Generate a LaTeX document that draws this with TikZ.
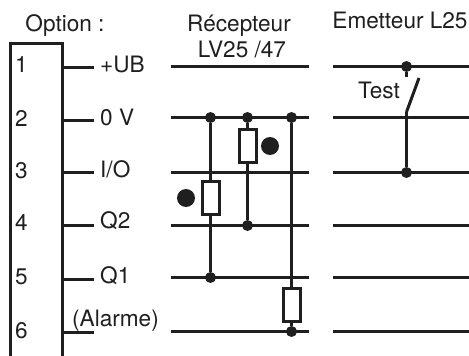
\documentclass[tikz,border=0pt]{standalone}
\usepackage{fontspec}
\setmainfont{TeX Gyre Heros}
\tikzset{
	wire/.style = { line width = 3pt , color = black!88 },
	label/.style = { inner sep = 0pt , font = \fontsize{22.6}{22.6}\selectfont , color = black!88 },
	junction/.style = { circle , fill = black!88 , inner sep = 0pt , minimum size = 11pt },
	polarity/.style = { circle , fill = black!88 , inner sep = 0pt , minimum size = 18pt },
	resistor/.style = { draw = black!88 , line width = 3pt , fill = white , inner sep = 0pt , minimum width = 17pt , minimum height = 33pt }
}
\begin{document}
\begin{tikzpicture} [ x = 1pt , y = -1pt ]
	\useasboundingbox (0,0) rectangle (469,356);

	\node [label, anchor = base] (title1) at (65,31) { Option : };
	\node [label, anchor = base] (title2) at (239,31) { Récepteur };
	\node [label, anchor = base] (title3) at (242,57) { LV25 /47 };
	\node [label, anchor = base] (title4) at (400,28.5) { Emetteur L25 };

	\coordinate (boxa) at (10.5,356);
	\coordinate (boxb) at (10.5,43.5);
	\coordinate (boxc) at (62.5,43.5);
	\coordinate (boxd) at (62.5,356);
	\draw [wire] (boxa) -- (boxb) -- (boxc) -- (boxd);

	\node [label, anchor = base west] (n1) at (15,72.5) { 1 };
	\node [label, anchor = base west] (n2) at (15,126) { 2 };
	\node [label, anchor = base west] (n3) at (15,178) { 3 };
	\node [label, anchor = base west] (n4) at (15,230.5) { 4 };
	\node [label, anchor = base west] (n5) at (15,284.5) { 5 };
	\node [label, anchor = base west] (n6) at (15,338) { 6 };

	\node [label, anchor = base west] (p1) at (100,72) { +UB };
	\node [label, anchor = base west] (p2) at (100,125) { 0 V };
	\node [label, anchor = base west] (p3) at (100,177) { I/O };
	\node [label, anchor = base west] (p4) at (100,228.5) { Q2 };
	\node [label, anchor = base west] (p5) at (100,283) { Q1 };
	\node [label, anchor = base west] (p6) at (72,326) { (Alarme) };

	\coordinate (s1) at (62,67.5);
	\coordinate (s2) at (62,120.5);
	\coordinate (s3) at (62,172.5);
	\coordinate (s4) at (62,225.5);
	\coordinate (s5) at (62,279.5);
	\coordinate (s6) at (62,332.5);
	\coordinate (e1) at (94,67.5);
	\coordinate (e2) at (94,120.5);
	\coordinate (e3) at (94,172.5);
	\coordinate (e4) at (94,225.5);
	\coordinate (e5) at (94,279.5);
	\coordinate (e6) at (94,332.5);
	\draw [wire] (s1) to (e1);
	\draw [wire] (s2) to (e2);
	\draw [wire] (s3) to (e3);
	\draw [wire] (s4) to (e4);
	\draw [wire] (s5) to (e5);
	\draw [wire] (s6) to (e6);

	\coordinate (a1) at (171,66.5);
	\coordinate (a2) at (171,117.5);
	\coordinate (a3) at (171,172.5);
	\coordinate (a4) at (171,225.5);
	\coordinate (a5) at (171,277.5);
	\coordinate (a6) at (171,331.5);
	\coordinate (b1) at (309,66.5);
	\coordinate (b2) at (309,117.5);
	\coordinate (b3) at (309,172.5);
	\coordinate (b4) at (309,225.5);
	\coordinate (b5) at (309,277.5);
	\coordinate (b6) at (309,331.5);
	\draw [wire] (a1) to (b1);
	\draw [wire] (a2) to (b2);
	\draw [wire] (a3) to (b3);
	\draw [wire] (a4) to (b4);
	\draw [wire] (a5) to (b5);
	\draw [wire] (a6) to (b6);

	\coordinate (c1) at (333,66.5);
	\coordinate (c2) at (333,117.5);
	\coordinate (c3) at (333,172.5);
	\coordinate (c4) at (333,225.5);
	\coordinate (c5) at (333,277.5);
	\coordinate (c6) at (333,331.5);
	\coordinate (d1) at (469,66.5);
	\coordinate (d2) at (469,117.5);
	\coordinate (d3) at (469,172.5);
	\coordinate (d4) at (469,225.5);
	\coordinate (d5) at (469,277.5);
	\coordinate (d6) at (469,331.5);
	\draw [wire] (c1) to (d1);
	\draw [wire] (c2) to (d2);
	\draw [wire] (c3) to (d3);
	\draw [wire] (c4) to (d4);
	\draw [wire] (c5) to (d5);
	\draw [wire] (c6) to (d6);

	\node [junction] (j1) at (210.5,117.5) {};
	\node [junction] (j2) at (247.5,117.5) {};
	\node [junction] (j3) at (291.5,117.5) {};
	\node [junction] (j4) at (210.5,277.5) {};
	\node [junction] (j5) at (247.5,225.5) {};
	\node [junction] (j6) at (291.5,331.5) {};
	\node [resistor] (r1) at (210.5,197.5) {};
	\node [resistor] (r2) at (247.5,145.5) {};
	\node [resistor] (r3) at (291.5,304.5) {};
	\node [polarity] (m1) at (186,198) {};
	\node [polarity] (m2) at (270,146) {};
	\draw [wire] (j1) to (r1);
	\draw [wire] (r1) to (j4);
	\draw [wire] (j2) to (r2);
	\draw [wire] (r2) to (j5);
	\draw [wire] (j3) to (r3);
	\draw [wire] (r3) to (j6);

	\node [junction] (j7) at (406.5,66.5) {};
	\node [junction] (j8) at (406.5,172.5) {};
	\coordinate (t1) at (406.5,77);
	\coordinate (t2) at (419,78);
	\coordinate (t3) at (406.5,112);
	\draw [wire] (j7) to (t1);
	\draw [wire] (t2) to (t3);
	\draw [wire] (t3) to (j8);
	\node [label, anchor = base west] (test) at (358,98) { Test };
\end{tikzpicture}
\end{document}
